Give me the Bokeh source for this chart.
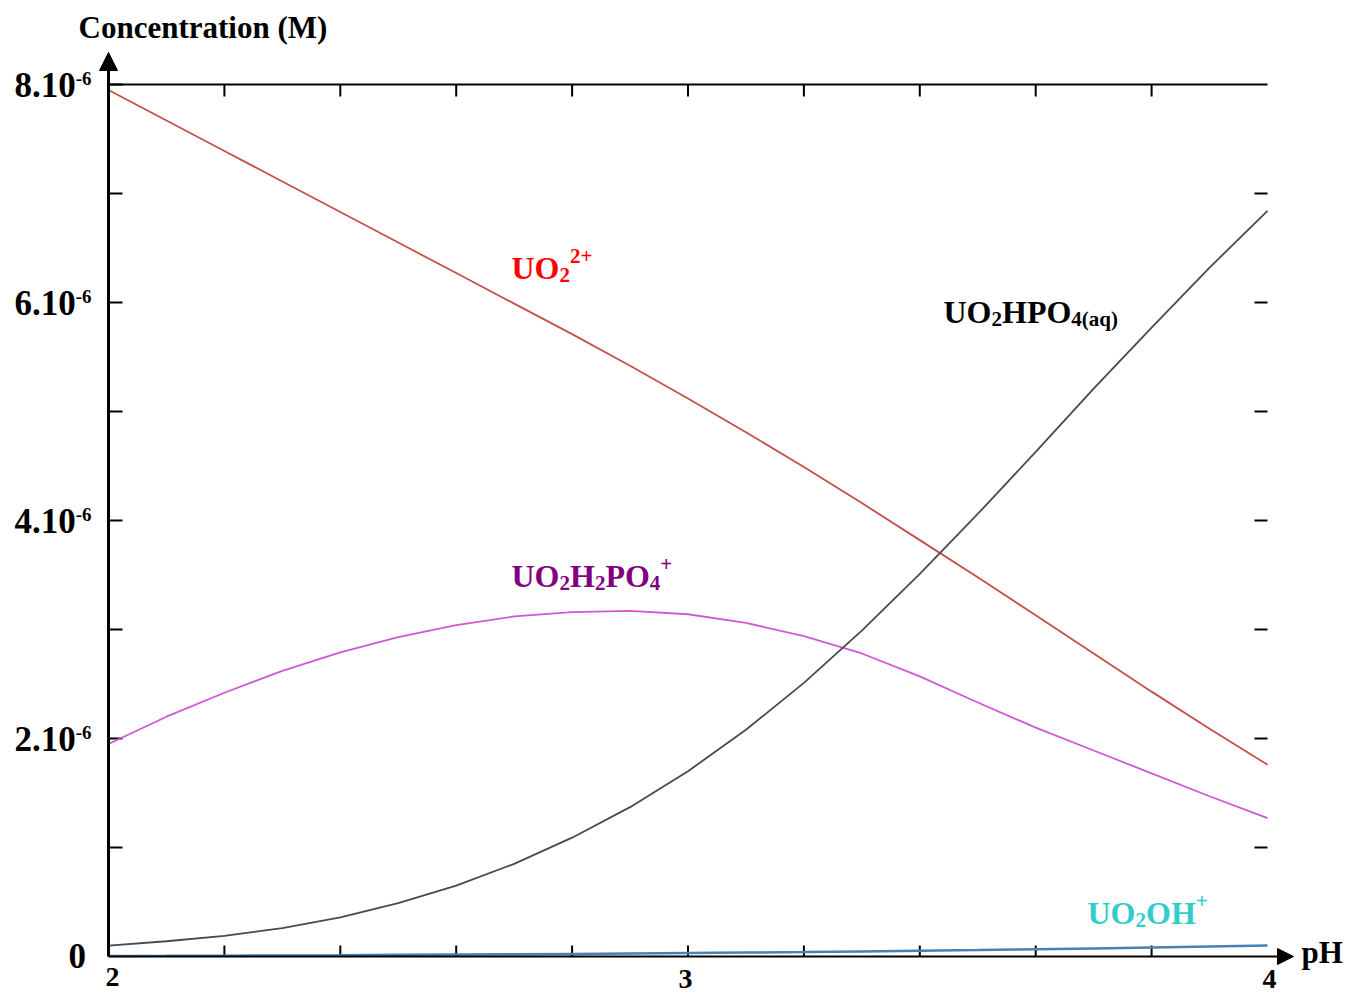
from bokeh.plotting import figure
from bokeh.models import Range1d, Label, Arrow, NormalHead
from bokeh.embed import file_html
from bokeh.resources import INLINE

# --- speciation data (concentrations in micromolar, converted below) ---
ph = [2.0, 2.1, 2.2, 2.3, 2.4, 2.5, 2.6, 2.7, 2.8, 2.9, 3.0,
      3.1, 3.2, 3.3, 3.4, 3.5, 3.6, 3.7, 3.8, 3.9, 4.0]
uo2 = [7.95, 7.67, 7.39, 7.11, 6.83, 6.55, 6.27, 5.99, 5.71, 5.42, 5.12,
       4.81, 4.49, 4.16, 3.82, 3.48, 3.13, 2.78, 2.43, 2.09, 1.76]
uo2h2po4 = [1.95, 2.20, 2.42, 2.62, 2.79, 2.93, 3.04, 3.12, 3.16, 3.17, 3.14,
            3.06, 2.94, 2.78, 2.57, 2.33, 2.10, 1.89, 1.68, 1.47, 1.27]
uo2hpo4 = [0.10, 0.14, 0.19, 0.26, 0.36, 0.49, 0.65, 0.85, 1.09, 1.37, 1.70,
           2.08, 2.51, 2.99, 3.51, 4.06, 4.63, 5.21, 5.77, 6.32, 6.84]
uo2oh = [0.005, 0.006, 0.008, 0.010, 0.012, 0.015, 0.018, 0.021, 0.024, 0.028, 0.032,
         0.036, 0.041, 0.047, 0.053, 0.059, 0.066, 0.074, 0.082, 0.091, 0.100]

y_tick_values = [0, 2e-6, 4e-6, 6e-6, 8e-6]
y_tick_mantissas = ["0", "2.10", "4.10", "6.10", "8.10"]
x_tick_values = [2, 3, 4]
x_tick_labels = ["2", "3", "4"]
minor_x = [2.2, 2.4, 2.6, 2.8, 3.0, 3.2, 3.4, 3.6, 3.8]
minor_y = [1e-6, 2e-6, 3e-6, 4e-6, 5e-6, 6e-6, 7e-6, 8e-6]

MICRO = 1e-6

def to_molar(vals):
    return [v * MICRO for v in vals]

# --- canvas geometry: plot box edges in pixels ---
W, H = 1350, 996
LEFT, RIGHT, TOP, BOTTOM = 108, 1267, 84, 956
PH0, PH1 = 2.0, 4.0
C0, C1 = 0.0, 8e-6

def dx(px):
    return PH0 + (px - LEFT) * (PH1 - PH0) / (RIGHT - LEFT)

def dy(py):
    return C0 + (BOTTOM - py) * (C1 - C0) / (BOTTOM - TOP)

# the data frame spans the whole canvas so the axis decorations and
# labels around the plot box are drawn in the same coordinates
p = figure(width=W, height=H, output_backend="svg", toolbar_location=None,
           x_range=Range1d(dx(0), dx(W)), y_range=Range1d(dy(H), dy(0)),
           x_axis_type=None, y_axis_type=None, min_border=0)
p.outline_line_color = None
p.background_fill_color = "white"
p.border_fill_color = "white"

# plot box: top edge and tick marks pointing inward
p.segment(x0=[PH0], y0=[C1], x1=[PH1], y1=[C1], line_color="black", line_width=2)
p.segment(x0=[PH0] * len(minor_y), y0=minor_y, x1=[dx(LEFT + 14)] * len(minor_y),
          y1=minor_y, line_color="black", line_width=2)
p.segment(x0=[dx(RIGHT - 13)] * 7, y0=minor_y[:7], x1=[PH1] * 7, y1=minor_y[:7],
          line_color="black", line_width=2)
p.segment(x0=minor_x, y0=[C1] * len(minor_x), x1=minor_x, y1=[dy(TOP + 12)] * len(minor_x),
          line_color="black", line_width=2)
p.segment(x0=minor_x, y0=[C0] * len(minor_x), x1=minor_x, y1=[dy(BOTTOM - 11)] * len(minor_x),
          line_color="black", line_width=2)

# axes with arrow heads
p.add_layout(Arrow(x_start=PH0, y_start=C0, x_end=PH0, y_end=dy(52),
                   line_width=3, line_color="black",
                   end=NormalHead(size=18, fill_color="black", line_color="black")))
p.add_layout(Arrow(x_start=PH0, y_start=C0, x_end=dx(1293), y_end=C0,
                   line_width=2, line_color="black",
                   end=NormalHead(size=16, fill_color="black", line_color="black")))

# species curves
p.line(ph, to_molar(uo2), line_color="#c4504c", line_width=1.8)
p.line(ph, to_molar(uo2h2po4), line_color="#d058d4", line_width=1.8)
p.line(ph, to_molar(uo2hpo4), line_color="#4a4a4a", line_width=1.8)
p.line(ph, to_molar(uo2oh), line_color="#4682b4", line_width=2.5)

FONT = "Liberation Serif"
ADV = {"U": .722, "O": .778, "H": .778, "P": .611, "2": .5, "4": .5, "6": .5,
       "+": .570, "(": .333, ")": .333, "a": .5, "q": .556, "-": .333, ".": .25,
       "1": .5, "0": .5, "8": .5}
BASE_SHIFT = 0.37  # alphabetic anchor sits this fraction of the size below y

def label(px, py, text, color="black", size=32, align="left"):
    p.add_layout(Label(x=dx(px), y=dy(py - BASE_SHIFT * size), text=text,
                       text_font=FONT, text_font_style="bold",
                       text_font_size=f"{size}px", text_color=color,
                       text_align=align, text_baseline="alphabetic"))

def formula(px, py, parts, color, size=32, small=21):
    x = px
    for text, kind in parts:
        fs = size if kind == "" else small
        base = py + (3 if kind == "sub" else -16 if kind == "sup" else 0)
        label(x, base, text, color, fs)
        x += sum(ADV[c] for c in text) * fs

formula(511, 279, [("UO", ""), ("2", "sub"), ("2+", "sup")], "#ff0000")
formula(511, 587, [("UO", ""), ("2", "sub"), ("H", ""), ("2", "sub"),
                   ("PO", ""), ("4", "sub"), ("+", "sup")], "#800080")
formula(943, 323, [("UO", ""), ("2", "sub"), ("HPO", ""), ("4(aq)", "sub")], "#000000")
formula(1087, 924, [("UO", ""), ("2", "sub"), ("OH", ""), ("+", "sup")], "#33cccc")

# axis titles
label(78, 38, "Concentration (M)", size=31)
label(1301, 963, "pH", size=31)

# y tick labels written as mantissa with a power-of-ten exponent
for val, mant in zip(y_tick_values, y_tick_mantissas):
    py = BOTTOM - (val - C0) / (C1 - C0) * (BOTTOM - TOP)
    if mant == "0":
        label(68, py + 12, mant, size=35)
        continue
    label(14, py + 13, mant, size=35)
    label(14 + 1.75 * 35, py + 1, "-6", size=19)

# x tick labels
x_label_px = [112, 685, 1269]
x_label_base = [987, 989, 989]
for lab, px, base in zip(x_tick_labels, x_label_px, x_label_base):
    label(px, base, lab, size=28, align="center")

open("out.html", "w").write(file_html(p, INLINE))
